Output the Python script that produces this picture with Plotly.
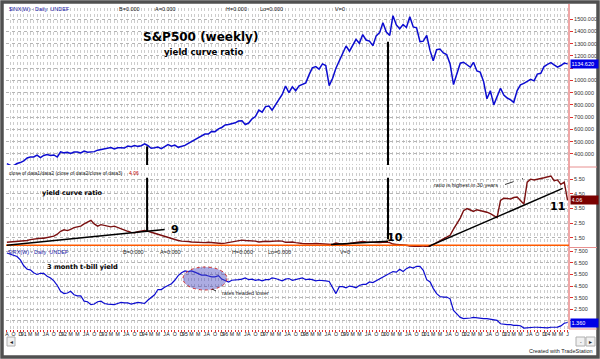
import plotly.graph_objects as go
import pandas as pd

# ---------------- data ----------------
START_MONTH = "1990-08-01"
N_MONTHS = 168  # Aug 1990 .. Jul 2004

sp500 = [
    322, 306, 304, 322, 330,
    344, 367, 375, 375, 390, 371, 388, 395, 388, 392, 375, 417,
    409, 413, 404, 415, 415, 408, 424, 414, 418, 419, 431, 436,
    439, 443, 452, 440, 450, 451, 448, 464, 459, 468, 462, 467,
    482, 467, 446, 451, 457, 444, 458, 476, 463, 472, 454, 459,
    470, 487, 501, 515, 533, 545, 562, 562, 584, 582, 605, 616,
    636, 640, 646, 654, 669, 671, 640, 652, 687, 705, 757, 741,
    786, 791, 757, 801, 848, 885, 954, 900, 947, 915, 955, 970,
    980, 1049, 1102, 1112, 1091, 1134, 1121, 957, 1017, 1099, 1164, 1229,
    1280, 1238, 1286, 1335, 1302, 1373, 1329, 1320, 1283, 1363, 1389, 1469,
    1394, 1366, 1527, 1452, 1421, 1455, 1431, 1518, 1436, 1429, 1315, 1320,
    1366, 1240, 1160, 1250, 1256, 1224, 1211, 1134, 966, 1060, 1140, 1148,
    1130, 1107, 1147, 1077, 1067, 990, 850, 916, 800, 870, 936, 880,
    856, 841, 820, 917, 964, 975, 990, 1008, 996, 1051, 1058, 1112,
    1131, 1145, 1126, 1107, 1121, 1141, 1134.62,
]

yield_ratio = [
    1.20, 1.22, 1.25, 1.25, 1.28,
    1.30, 1.32, 1.38, 1.42, 1.45, 1.48, 1.48, 1.52, 1.55, 1.62, 1.75, 1.95,
    2.05, 2.00, 2.08, 2.20, 2.25, 2.30, 2.45, 2.60, 2.70, 2.45, 2.30, 2.40,
    2.35, 2.25, 2.25, 2.30, 2.20, 2.10, 2.00, 1.95, 1.88, 1.85, 1.92, 1.98,
    2.00, 1.95, 1.88, 1.85, 1.75, 1.65, 1.58, 1.52, 1.45, 1.38, 1.32, 1.28,
    1.28, 1.25, 1.22, 1.20, 1.18, 1.15, 1.18, 1.20, 1.18, 1.15, 1.12, 1.12,
    1.14, 1.18, 1.25, 1.30, 1.33, 1.35, 1.32, 1.30, 1.32, 1.28, 1.22, 1.25,
    1.27, 1.25, 1.27, 1.30, 1.30, 1.28, 1.20, 1.20, 1.22, 1.18, 1.13, 1.12,
    1.10, 1.08, 1.10, 1.12, 1.10, 1.08, 1.10, 1.08, 1.05, 1.15, 1.08, 1.06,
    1.08, 1.12, 1.15, 1.17, 1.20, 1.25, 1.22, 1.20, 1.20, 1.20, 1.18, 1.20,
    1.22, 1.18, 1.08, 1.06, 1.05, 1.02, 1.00, 0.95, 0.95, 0.92, 0.90, 0.88,
    0.90, 0.95, 1.05, 1.20, 1.32, 1.44, 1.55, 1.68, 2.10, 2.45, 2.85, 3.35,
    3.50, 3.40, 3.30, 3.42, 3.38, 3.32, 3.25, 3.15, 3.00, 2.88, 4.05, 4.20,
    4.18, 4.15, 4.25, 4.28, 4.05, 3.80, 5.30, 5.50, 5.45, 5.48, 5.55, 5.60,
    5.65, 5.72, 5.40, 5.45, 5.15, 5.30, 4.06,
]

tbill_3m = [
    7.35, 7.25, 7.15, 7.05, 6.75,
    6.25, 5.95, 5.90, 5.65, 5.50, 5.60, 5.60, 5.35, 5.20, 4.95, 4.55, 4.05,
    3.85, 3.90, 4.05, 3.75, 3.65, 3.65, 3.20, 3.15, 2.90, 2.95, 3.15, 3.20,
    3.00, 2.95, 2.95, 2.90, 3.00, 3.10, 3.05, 3.05, 2.95, 3.05, 3.10, 3.05,
    3.00, 3.30, 3.55, 3.75, 4.20, 4.20, 4.40, 4.55, 4.70, 5.00, 5.40, 5.65,
    5.80, 5.75, 5.80, 5.70, 5.60, 5.45, 5.45, 5.35, 5.30, 5.30, 5.40, 5.10,
    4.95, 4.85, 5.00, 5.00, 5.05, 5.10, 5.20, 5.05, 5.10, 5.00, 5.05, 4.95,
    5.05, 5.05, 5.20, 5.15, 5.05, 4.95, 5.10, 5.15, 5.00, 5.05, 5.15, 5.20,
    5.05, 5.10, 5.05, 4.95, 5.00, 5.00, 4.95, 4.90, 4.40, 3.85, 4.45, 4.45,
    4.35, 4.50, 4.45, 4.35, 4.55, 4.65, 4.65, 4.85, 4.80, 4.95, 5.15, 5.25,
    5.40, 5.60, 5.75, 5.70, 5.95, 5.75, 6.00, 6.15, 6.05, 6.20, 6.20, 5.85,
    5.05, 4.85, 4.30, 3.85, 3.60, 3.55, 3.55, 3.40, 2.40, 2.10, 1.80, 1.70,
    1.70, 1.75, 1.80, 1.75, 1.75, 1.70, 1.70, 1.65, 1.65, 1.55, 1.25, 1.20,
    1.18, 1.18, 1.12, 1.12, 1.08, 0.88, 0.92, 0.97, 0.95, 0.95, 0.93, 0.92,
    0.90, 0.95, 0.95, 0.97, 1.07, 1.30, 1.36,
]

sp_ticks = [400, 500, 600, 700, 800, 900, 1000, 1100, 1200, 1300, 1400, 1500]
ratio_ticks = [1.5, 2.5, 3.5, 4.5, 5.5]
tbill_ticks = [1.5, 2.5, 3.5, 4.5, 5.5, 6.5, 7.5]
sp_hidden_label = 1100      # covered by the last-value box in the reference
tbill_hidden_label = 1.5    # covered by the last-value box in the reference

MONTH_LETTERS = ["J", "F", "M", "A", "M", "J", "J", "A", "S", "O", "N", "D"]
LABELED_MONTHS = [1, 3, 5, 7, 8, 10, 12]

months = pd.date_range(START_MONTH, periods=N_MONTHS, freq="MS") + pd.Timedelta(days=14)

tick_dates, tick_text = [], []
for d in months:
    if d.month in LABELED_MONTHS:
        tick_dates.append(d)
        tick_text.append(f"{d.year % 100:02d}" if d.month == 1 else MONTH_LETTERS[d.month - 1])

sp_ticktext = ["" if v == sp_hidden_label else f"{v:.3f}" for v in sp_ticks]
ratio_ticktext = [f"{v:.2f}" for v in ratio_ticks]
tbill_ticktext = ["" if v == tbill_hidden_label else f"{v:.3f}" for v in tbill_ticks]

# ---------------- layout helpers (pixel -> paper) ----------------
WIDTH, HEIGHT = 600, 359
L, R, T, B = 6, 569, 8, 329


def PX(x):
    return (x - L) / (R - L)


def PY(y):
    return (B - y) / (B - T)


def dom(top, bottom):
    return [PY(bottom), PY(top)]


SMALL = "Liberation Sans, Arial, sans-serif"
BOLD = "DejaVu Sans, Verdana, sans-serif"
GRID = "#cdcdcd"
BLUE = "#0c0cd0"
MAROON = "#7a1010"

fig = go.Figure()
fig.add_trace(go.Scatter(x=months, y=sp500, xaxis="x", yaxis="y", mode="lines",
                         line=dict(color=BLUE, width=1.5), hoverinfo="skip"))
fig.add_trace(go.Scatter(x=months, y=yield_ratio, xaxis="x", yaxis="y2", mode="lines",
                         line=dict(color=MAROON, width=1.4), hoverinfo="skip"))
fig.add_trace(go.Scatter(x=months, y=tbill_3m, xaxis="x", yaxis="y3", mode="lines",
                         line=dict(color=BLUE, width=1.2), hoverinfo="skip"))

yax_common = dict(side="right", anchor="x", showgrid=True, gridcolor="#b5b5b5", griddash="dot",
                  gridwidth=1, ticks="outside", ticklen=3, tickcolor="#e03030",
                  tickfont=dict(size=5.5, family=SMALL, color="#333333"), zeroline=False,
                  showline=False, fixedrange=True, automargin=False, tickmode="array")

fig.update_layout(
    width=WIDTH, height=HEIGHT,
    margin=dict(l=L, r=WIDTH - R, t=T, b=HEIGHT - B, pad=0, autoexpand=False),
    paper_bgcolor="white", plot_bgcolor="white",
    showlegend=False,
    xaxis=dict(
        type="date", anchor="y3", range=["1990-08-07", "2004-07-28"],
        tickmode="array", tickvals=tick_dates, ticktext=tick_text, tickangle=0,
        tickfont=dict(size=5.2, family=SMALL, color="#111111"),
        ticks="outside", ticklen=2, tickcolor="#e03030", ticklabelstandoff=-2,
        showgrid=True, gridcolor=GRID, griddash="dot", gridwidth=1,
        minor=dict(dtick="M1", tick0="1990-08-15", showgrid=True, gridcolor=GRID,
                   griddash="dot", gridwidth=1, ticks="outside", ticklen=2,
                   tickcolor="#e03030"),
        zeroline=False, showline=False, fixedrange=True, automargin=False,
    ),
    yaxis=dict(domain=dom(8, 165), range=[310, 1590], tickvals=sp_ticks,
               ticktext=sp_ticktext, **yax_common),
    yaxis2=dict(domain=dom(167, 247), range=[0.88, 6.33], tickvals=ratio_ticks,
                ticktext=ratio_ticktext, **yax_common),
    yaxis3=dict(domain=dom(248, 329), range=[0.80, 7.78], tickvals=tbill_ticks,
                ticktext=tbill_ticktext, **yax_common),
)

shapes = []
# outer frame
shapes.append(dict(type="rect", xref="paper", yref="paper", x0=PX(2), x1=PX(598),
                   y0=PY(357), y1=PY(2), line=dict(color="#505050", width=3.5),
                   fillcolor="rgba(0,0,0,0)", layer="above"))
# red price axis line and separators
shapes.append(dict(type="line", xref="paper", yref="paper", x0=1, x1=1, y0=PY(329), y1=PY(4),
                   line=dict(color="#e05050", width=1)))
for ypix in (167, 247.5, 329):
    shapes.append(dict(type="line", xref="paper", yref="paper", x0=1, x1=PX(597),
                       y0=PY(ypix), y1=PY(ypix), line=dict(color="#e89090", width=1)))
# orange reference line at ratio = 1
shapes.append(dict(type="line", xref="paper", yref="y2", x0=0, x1=1, y0=1.0, y1=1.0,
                   line=dict(color="#ff5a00", width=1.6)))
# thick vertical marker lines (9 and 10)
for xd, top1, top2, bot2 in (("1994-02-06", 462, 5.6, 1.98), ("2000-01-30", 1315, 5.6, 1.40)):
    shapes.append(dict(type="line", xref="x", yref="y", x0=xd, x1=xd, y0=310, y1=top1,
                       line=dict(color="black", width=2)))
    shapes.append(dict(type="line", xref="x", yref="y2", x0=xd, x1=xd, y0=bot2, y1=top2,
                       line=dict(color="black", width=2)))
# trend lines on ratio
for x0, y0, x1, y1 in (("1990-08-15", 1.0, "1994-07-15", 2.07),
                       ("1998-09-01", 1.05, "2000-01-30", 1.27),
                       ("2001-02-01", 0.92, "2004-06-01", 4.87)):
    shapes.append(dict(type="line", xref="x", yref="y2", x0=x0, y0=y0, x1=x1, y1=y1,
                       line=dict(color="black", width=1.5)))
# dashed pointer near "ratio is highest"
shapes.append(dict(type="line", xref="paper", yref="paper", x0=PX(505), y0=PY(184.5),
                   x1=PX(523), y1=PY(178.5), line=dict(color="black", width=0.8, dash="dash")))
# ellipse highlighting rates
shapes.append(dict(type="circle", xref="paper", yref="paper", x0=PX(183), x1=PX(227),
                   y0=PY(290), y1=PY(267), fillcolor="rgba(70,70,190,0.45)",
                   line=dict(color="#d03030", width=1, dash="dot")))
shapes.append(dict(type="line", xref="paper", yref="paper", x0=PX(212), y0=PY(289),
                   x1=PX(216), y1=PY(291), line=dict(color="black", width=0.8)))
# scrollbar buttons
for x0, x1 in ((7, 15), (576, 585), (586, 595)):
    shapes.append(dict(type="rect", xref="paper", yref="paper", x0=PX(x0), x1=PX(x1),
                       y0=PY(346), y1=PY(337), fillcolor="#f0f0f0",
                       line=dict(color="#b0b0b0", width=1)))
fig.update_layout(shapes=shapes)

ann = []


def text(xp, yp, s, size=5.5, color="#222222", family=SMALL, anchor="left", bold=False):
    ann.append(dict(xref="paper", yref="paper", x=PX(xp), y=PY(yp), text=(f"<b>{s}</b>" if bold else s),
                    showarrow=False, xanchor=anchor, yanchor="middle",
                    font=dict(size=size, color=color, family=family)))


# panel headers
text(7, 9.5, "$INX(W) - Daily&nbsp;&nbsp;UNDEF", color="#1a1aa8")
for xp, s in ((117, "B=0.000"), (153, "A=0.000"), (224, "H=0.000"), (258, "Lo=0.000"), (333, "V=0")):
    text(xp, 9.5, s)
text(7, 172.5, "close of data1/data2 (close of data2/close of data3)", size=5)
text(127, 172.5, f"{yield_ratio[-1]:.2f}", size=5, color="#c00000")
text(6, 252, "$IRX(W) - Daily&nbsp;&nbsp;UNDEF", color="#1a1aa8")
for xp, s in ((121, "B=0.000"), (158, "A=0.000"), (230, "H=0.000"), (266, "Lo=0.000"), (338, "V=0")):
    text(xp, 252, s)

# commentary
text(200, 37.5, "S&P500 (weekly)", size=12, color="black", family=BOLD, anchor="center", bold=True)
text(203, 52.5, "yield curve ratio", size=8.6, color="black", family=BOLD, anchor="center", bold=True)
text(72, 193, "yield curve ratio", size=6.5, color="black", family=BOLD, anchor="center", bold=True)
text(175, 229, "9", size=11, color="black", family=BOLD, anchor="center", bold=True)
text(395, 237, "10", size=11, color="black", family=BOLD, anchor="center", bold=True)
text(557, 206.5, "11", size=11, color="black", family=BOLD, anchor="center", bold=True)
text(466, 185, "ratio is highest in 30 years", size=5.5, anchor="center")
text(82, 266.5, "3 month t-bill yield", size=6.6, color="black", family=BOLD, anchor="center", bold=True)
text(246, 292.5, "rates headed lower", size=5.5, anchor="center")
text(561, 350.5, "Created with TradeStation", size=5.5, anchor="center")
text(11, 341.5, "◄", size=5, anchor="center")
text(580.5, 341.5, "-", size=5, anchor="center")
text(590.5, 341.5, "►", size=5, anchor="center")

# last-value boxes on the price axis
for yref, val, fmt, bg in (("y", sp500[-1], ".3f", "#0000e6"),
                           ("y2", yield_ratio[-1], ".2f", "#7a0000"),
                           ("y3", tbill_3m[-1], ".3f", "#0000e6")):
    ann.append(dict(xref="paper", yref=yref, x=PX(570), y=val, text=format(val, fmt),
                    showarrow=False, xanchor="left", yanchor="middle", align="left",
                    width=26, height=7, bgcolor=bg, borderpad=0.5,
                    font=dict(size=5.5, color="white", family=SMALL)))

fig.update_layout(annotations=ann)
fig.write_html("out.html", config={"displayModeBar": False},
               post_script="document.body.style.margin='0px';document.body.style.overflow='hidden';")
